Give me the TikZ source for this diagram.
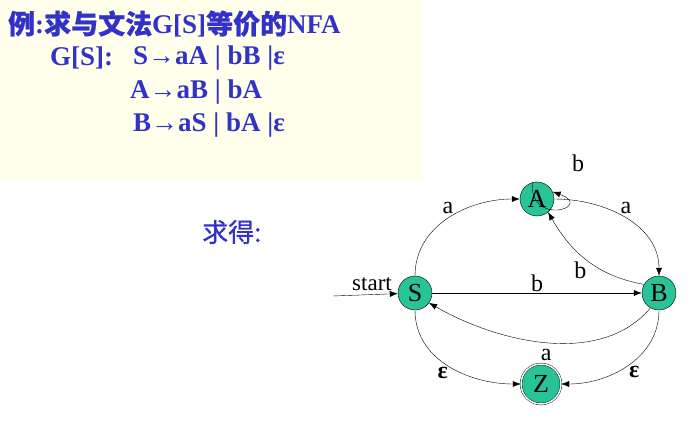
\documentclass[tikz,border=0pt]{standalone}
\usepackage{fontspec}
\setmainfont{Liberation Serif}
\newfontfamily\cjk{Noto Sans CJK SC}[FakeBold=0.8]
\usetikzlibrary{arrows.meta}
\definecolor{tblue}{RGB}{50,50,200}
\definecolor{sfill}{RGB}{40,195,150}
\definecolor{bgy}{RGB}{255,255,236}
\begin{document}
\begin{tikzpicture}[x=1pt,y=-1pt,
  st/.style={circle,draw,fill=sfill,minimum size=34pt,inner sep=0pt,font=\fontsize{26}{26}\selectfont},
  tx/.style={font=\fontsize{27}{29}\selectfont\bfseries,text=tblue,anchor=west,inner sep=0pt},
  lb/.style={font=\fontsize{24}{24}\selectfont,inner sep=1pt},
  ar/.style={-{Latex[length=8pt,width=6pt]},thin}]
\useasboundingbox (0,0) rectangle (692,425);
\fill[bgy] (0,0) rectangle (422,180);
\node[tx] (t1) at (8,24) {{\cjk 例}:{\cjk 求与文法}G[S]{\cjk 等价的}NFA};
\node[tx] (t2) at (50,58) {G[S]:};
\node[tx] (t3) at (133,58) {S→aA | bB |ε};
\node[tx] (t4) at (130,92) {A→aB | bA};
\node[tx] (t5) at (133,125) {B→aS | bA |ε};
\node[tx,font=\fontsize{26}{28}\selectfont\cjk] (t6) at (202,232) {求得:};
\node[st] (S) at (415,293) {S};
\node[st] (A) at (537,199) {A};
\node[st] (B) at (659,293) {B};
\node[st,double,double distance=1.5pt,minimum size=40pt] (Z) at (541,384) {Z};
\coordinate (st0) at (333,296);
\node[lb,font=\fontsize{23}{23}\selectfont] (stl) at (372,284) {start};
\draw[ar] (st0) -- (S);
\draw[ar] (S.north) to[out=90,in=180] node[lb,pos=0.55,above left] {a} (A.west);
\draw[ar] (A.east) to[out=0,in=90] node[lb,pos=0.45,above right] {a} (B.north);
\draw[ar] (B.150) to[out=170,in=-60] node[lb,pos=0.5,below left] {b} (A.-50);
\draw[ar] (A.105) .. controls +(95:45) and +(20:45) .. (A.25);
\node[lb] (lbA) at (578,163) {b};
\draw[ar] (S) -- node[lb,above] {b} (B);
\draw[ar] (B.-120) to[out=-130,in=-30,looseness=0.9] node[lb,pos=0.5,below=6pt] {a} (S.-35);
\draw[ar] (S.south) to[out=-90,in=180] node[lb,pos=0.5,below left,font=\fontsize{24}{24}\selectfont\bfseries] {ε} (Z.west);
\draw[ar] (B.south) to[out=-90,in=0] node[lb,pos=0.5,below right,font=\fontsize{24}{24}\selectfont\bfseries] {ε} (Z.east);
\end{tikzpicture}
\end{document}
